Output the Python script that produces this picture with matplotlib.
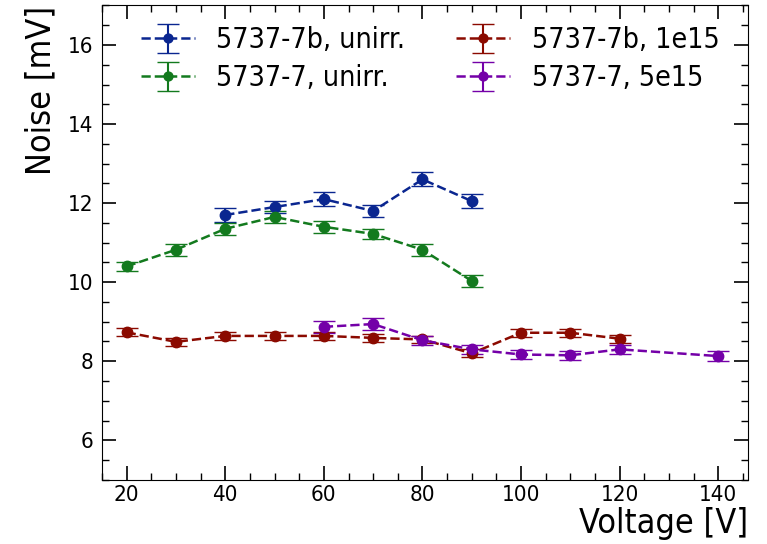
import matplotlib.pyplot as plt
from matplotlib.ticker import MultipleLocator

# Datos
v_7b_unirr = [40, 50, 60, 70, 80, 90]
n_7b_unirr = [11.7, 11.9, 12.1, 11.8, 12.6, 12.05]
e_7b_unirr = [0.17, 0.15, 0.18, 0.15, 0.18, 0.17]

v_7_unirr = [20, 30, 40, 50, 60, 70, 80, 90]
n_7_unirr = [10.4, 10.82, 11.35, 11.65, 11.4, 11.22, 10.82, 10.03]
e_7_unirr = [0.12, 0.15, 0.15, 0.15, 0.15, 0.13, 0.15, 0.15]

v_7b_1e15 = [20, 30, 40, 50, 60, 70, 80, 90, 100, 110, 120]
n_7b_1e15 = [8.73, 8.49, 8.64, 8.64, 8.64, 8.59, 8.55, 8.2, 8.72, 8.72, 8.57]
e_7b_1e15 = [0.1, 0.1, 0.1, 0.1, 0.1, 0.1, 0.1, 0.1, 0.1, 0.1, 0.1]

v_7_5e15 = [60, 70, 80, 90, 100, 110, 120, 140]
n_7_5e15 = [8.87, 8.94, 8.53, 8.3, 8.17, 8.15, 8.3, 8.13]
e_7_5e15 = [0.15, 0.15, 0.12, 0.12, 0.12, 0.12, 0.12, 0.12]

plt.rcParams['font.family'] = 'DejaVu Sans'
plt.rcParams['font.stretch'] = 'condensed'

fig = plt.figure(figsize=(7.67, 5.44), dpi=100)
ax = fig.add_axes([0.133, 0.118, 0.842, 0.872])

kw = dict(fmt='o--', markersize=7.5, capsize=8, linewidth=1.8, elinewidth=1.5)
ax.errorbar(v_7b_unirr, n_7b_unirr, yerr=e_7b_unirr, color='#0a2690', label='5737-7b, unirr.', **kw)
ax.errorbar(v_7_unirr, n_7_unirr, yerr=e_7_unirr, color='#137a1e', label='5737-7, unirr.', **kw)
ax.errorbar(v_7b_1e15, n_7b_1e15, yerr=e_7b_1e15, color='#8b0a00', label='5737-7b, 1e15', **kw)
ax.errorbar(v_7_5e15, n_7_5e15, yerr=e_7_5e15, color='#7400a8', label='5737-7, 5e15', **kw)

ax.set_xlim(15, 146)
ax.set_ylim(5, 17)
ax.xaxis.set_major_locator(MultipleLocator(20))
ax.xaxis.set_minor_locator(MultipleLocator(5))
ax.yaxis.set_major_locator(MultipleLocator(2))
ax.yaxis.set_minor_locator(MultipleLocator(0.5))
ax.tick_params(which='both', direction='in', top=True, right=True, labelsize=16)
ax.tick_params(axis='y', pad=6)
ax.tick_params(which='major', length=10, width=1.2)
ax.tick_params(which='minor', length=5, width=1)

ax.set_xlabel('Voltage [V]', fontsize=24.5, loc='right', labelpad=2)
ax.set_ylabel('Noise [mV]', fontsize=24.5, loc='top', labelpad=8)

ax.legend(ncol=2, loc='upper left', fontsize=20.5, frameon=False,
          bbox_to_anchor=(0.02, 1.01), columnspacing=1.8, handlelength=1.9,
          handletextpad=0.75, labelspacing=0.35, markerscale=0.85)

fig.savefig('out.png', dpi=100)
